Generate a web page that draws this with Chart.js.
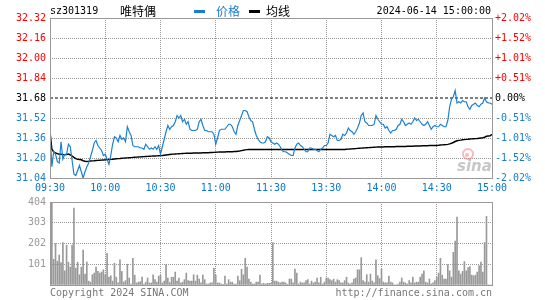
<!DOCTYPE html>
<html>
<head>
<meta charset="utf-8">
<script src="https://cdn.jsdelivr.net/npm/chart.js@4.4.1/dist/chart.umd.min.js"></script>
<style>
  body { margin: 0; background: #fff; }
  #wrap { position: relative; width: 545px; height: 300px; }
  #priceChart { position: absolute; left: 0; top: 0; }
  #volChart { position: absolute; left: 0; top: 192px; }
</style>
</head>
<body>
<div id="wrap">
  <canvas id="priceChart" width="545" height="192"></canvas>
  <canvas id="volChart" width="545" height="108"></canvas>
</div>
<script>
// 昨收 and axis ticks
const prevClose = 31.68;
const timeTickPos = [0, 30, 60, 90, 120, 150, 180, 210, 240];
const timeTicks = ['09:30', '10:00', '10:30', '11:00', '11:30', '13:30', '14:00', '14:30', '15:00'];
const priceTicks = [31.04, 31.20, 31.36, 31.52, 31.68, 31.84, 32.00, 32.16, 32.32];
const pctTicks = ['-2.02%', '-1.52%', '-1.01%', '-0.51%', '0.00%', '+0.51%', '+1.01%', '+1.52%', '+2.02%'];
const volTicks = [0, 101, 202, 303, 404];
const volTickLabels = ['', '101', '202', '303', '404'];

// one value per minute, 09:30-11:30 and 13:01-15:00
const prices = [
  31.41, 31.13, 31.25, 31.23, 31.17, 31.16, 31.33, 31.19, 31.23, 31.23,
  31.31, 31.29, 31.18, 31.07, 31.06, 31.10, 31.14, 31.09, 31.04, 31.09,
  31.13, 31.16, 31.21, 31.26, 31.32, 31.34, 31.30, 31.28, 31.26, 31.22,
  31.23, 31.19, 31.15, 31.22, 31.31, 31.37, 31.36, 31.33, 31.38, 31.35,
  31.36, 31.33, 31.45, 31.41, 31.38, 31.30, 31.29, 31.29, 31.29, 31.28,
  31.28, 31.27, 31.31, 31.29, 31.27, 31.28, 31.27, 31.29, 31.27, 31.30,
  31.23, 31.29, 31.35, 31.41, 31.46, 31.43, 31.45, 31.46, 31.49, 31.54,
  31.52, 31.54, 31.49, 31.51, 31.47, 31.49, 31.43, 31.42, 31.42, 31.42,
  31.43, 31.49, 31.51, 31.46, 31.42, 31.42, 31.41, 31.41, 31.41, 31.39,
  31.31, 31.36, 31.42, 31.43, 31.43, 31.43, 31.45, 31.47, 31.47, 31.45,
  31.41, 31.39, 31.46, 31.50, 31.54, 31.58, 31.58, 31.57, 31.53, 31.50,
  31.49, 31.43, 31.38, 31.35, 31.33, 31.32, 31.32, 31.33, 31.37, 31.36,
  31.33, 31.32, 31.31, 31.32, 31.31, 31.29, 31.26, 31.25, 31.25, 31.24,
  31.23, 31.22, 31.22, 31.28, 31.31, 31.32, 31.30, 31.29, 31.27, 31.25,
  31.25, 31.28, 31.28, 31.27, 31.27, 31.26, 31.25, 31.27, 31.28, 31.30,
  31.30, 31.32, 31.39, 31.38, 31.37, 31.38, 31.34, 31.34, 31.35, 31.39,
  31.38, 31.40, 31.44, 31.42, 31.41, 31.39, 31.41, 31.44, 31.48, 31.54,
  31.56, 31.49, 31.48, 31.46, 31.46, 31.46, 31.47, 31.54, 31.51, 31.49,
  31.47, 31.47, 31.44, 31.45, 31.42, 31.40, 31.42, 31.42, 31.43, 31.46,
  31.47, 31.51, 31.49, 31.46, 31.47, 31.48, 31.47, 31.49, 31.52, 31.50,
  31.51, 31.49, 31.47, 31.46, 31.47, 31.49, 31.46, 31.43, 31.45, 31.46,
  31.45, 31.45, 31.47, 31.46, 31.45, 31.45, 31.50, 31.61, 31.67, 31.69,
  31.74, 31.64, 31.65, 31.64, 31.66, 31.65, 31.65, 31.61, 31.59, 31.62,
  31.63, 31.64, 31.62, 31.61, 31.63, 31.64, 31.68, 31.65, 31.64, 31.64,
  31.63
];

const avgPrices = [
  31.410, 31.270, 31.250, 31.240, 31.235, 31.230, 31.230, 31.228, 31.227, 31.228,
  31.232, 31.225, 31.216, 31.205, 31.195, 31.190, 31.188, 31.186, 31.178, 31.174,
  31.173, 31.174, 31.176, 31.177, 31.178, 31.180, 31.181, 31.182, 31.183, 31.184,
  31.185, 31.187, 31.188, 31.189, 31.190, 31.192, 31.194, 31.195, 31.196, 31.198,
  31.199, 31.200, 31.201, 31.202, 31.203, 31.205, 31.206, 31.207, 31.208, 31.209,
  31.210, 31.211, 31.212, 31.213, 31.214, 31.215, 31.216, 31.216, 31.217, 31.218,
  31.219, 31.220, 31.222, 31.224, 31.226, 31.228, 31.230, 31.231, 31.232, 31.233,
  31.234, 31.235, 31.236, 31.237, 31.238, 31.238, 31.239, 31.239, 31.240, 31.240,
  31.240, 31.241, 31.241, 31.242, 31.242, 31.243, 31.243, 31.244, 31.244, 31.245,
  31.246, 31.247, 31.248, 31.248, 31.249, 31.249, 31.250, 31.250, 31.251, 31.251,
  31.252, 31.252, 31.254, 31.256, 31.259, 31.262, 31.265, 31.267, 31.268, 31.268,
  31.269, 31.269, 31.269, 31.269, 31.269, 31.269, 31.269, 31.269, 31.269, 31.269,
  31.269, 31.269, 31.269, 31.269, 31.269, 31.269, 31.269, 31.269, 31.269, 31.269,
  31.269, 31.269, 31.269, 31.269, 31.269, 31.269, 31.269, 31.269, 31.269, 31.269,
  31.269, 31.269, 31.269, 31.269, 31.269, 31.269, 31.269, 31.269, 31.269, 31.269,
  31.269, 31.269, 31.269, 31.269, 31.269, 31.269, 31.269, 31.269, 31.269, 31.269,
  31.269, 31.270, 31.271, 31.272, 31.273, 31.274, 31.275, 31.277, 31.278, 31.279,
  31.280, 31.281, 31.282, 31.283, 31.284, 31.285, 31.286, 31.287, 31.288, 31.288,
  31.289, 31.289, 31.290, 31.290, 31.290, 31.291, 31.291, 31.291, 31.292, 31.292,
  31.292, 31.293, 31.293, 31.293, 31.294, 31.294, 31.295, 31.295, 31.296, 31.296,
  31.297, 31.297, 31.298, 31.298, 31.299, 31.299, 31.300, 31.300, 31.300, 31.301,
  31.301, 31.302, 31.304, 31.305, 31.306, 31.307, 31.309, 31.313, 31.318, 31.324,
  31.332, 31.338, 31.341, 31.343, 31.346, 31.347, 31.349, 31.350, 31.352, 31.353,
  31.354, 31.355, 31.356, 31.358, 31.360, 31.362, 31.366, 31.374, 31.376, 31.378,
  31.389
];

const volumes = [
  30, 404, 125, 202, 116, 146, 109, 207, 69, 194,
  111, 87, 194, 375, 82, 111, 50, 87, 170, 53,
  111, 19, 14, 50, 58, 87, 66, 58, 63, 74,
  50, 154, 38, 45, 19, 106, 38, 10, 122, 66,
  14, 21, 101, 34, 5, 130, 48, 10, 14, 16,
  38, 5, 14, 34, 10, 10, 50, 26, 14, 43,
  48, 10, 19, 99, 34, 12, 38, 38, 63, 19,
  34, 10, 14, 26, 58, 21, 19, 19, 50, 19,
  48, 29, 10, 48, 26, 5, 5, 10, 10, 82,
  48, 10, 10, 5, 2, 43, 5, 26, 14, 14,
  5, 5, 43, 21, 77, 50, 130, 87, 29, 14,
  5, 5, 14, 14, 48, 5, 8, 5, 8, 8,
  8, 207, 19, 19, 14, 10, 14, 14, 10, 2,
  29, 29, 10, 77, 58, 5, 14, 10, 10, 21,
  26, 5, 19, 10, 14, 34, 10, 38, 5, 14,
  34, 34, 26, 21, 29, 14, 26, 21, 10, 10,
  21, 38, 10, 5, 10, 29, 34, 74, 74, 133,
  21, 14, 50, 14, 53, 19, 10, 122, 45, 31,
  79, 14, 10, 10, 43, 14, 10, 0, 0, 5,
  14, 34, 14, 10, 5, 21, 10, 38, 10, 14,
  14, 38, 53, 69, 14, 10, 29, 5, 10, 21,
  38, 58, 130, 48, 29, 29, 99, 69, 38, 159,
  214, 330, 69, 53, 66, 114, 69, 85, 90, 48,
  45, 48, 63, 95, 111, 63, 207, 334, 0, 0,
  0
];

const MONO = { family: 'DejaVu Sans Mono', size: 10 };
const RED = '#ff0000';
const BLUE = '#1a7dcc';
const GRID = '#999999';

function priceColor(v) {
  if (Math.abs(v - prevClose) < 1e-6) return '#000';
  return v > prevClose ? RED : BLUE;
}

// vertical dotted lines at the half-hour ticks, placed by the x scale
const timeGridPlugin = {
  id: 'timeGrid',
  beforeDatasetsDraw(chart) {
    const ctx = chart.ctx;
    const a = chart.chartArea;
    const xScale = chart.scales.x;
    ctx.save();
    ctx.fillStyle = GRID;
    for (let k = 1; k < timeTickPos.length - 1; k++) {
      const px = Math.floor(xScale.getPixelForValue(timeTickPos[k]));
      for (let y = Math.round(a.top) + 2; y < a.bottom - 1; y += 2) {
        ctx.fillRect(px, y, 1, 1);
      }
    }
    ctx.restore();
  }
};

// frame round the plot area
const framePlugin = {
  id: 'frame',
  afterDraw(chart) {
    const { ctx, chartArea: a } = chart;
    ctx.save();
    ctx.strokeStyle = '#999';
    ctx.lineWidth = 1;
    ctx.strokeRect(Math.round(a.left) + 0.5, Math.round(a.top) + 0.5,
      Math.round(a.right - a.left), Math.round(a.bottom - a.top));
    ctx.restore();
  }
};

// header, legend and the sina mark
const headerPlugin = {
  id: 'header',
  beforeDatasetsDraw(chart) {
    const ctx = chart.ctx;
    ctx.save();
    ctx.globalAlpha = 0.55;
    ctx.strokeStyle = '#f08080';
    ctx.lineWidth = 2;
    ctx.beginPath();
    ctx.arc(468, 154, 5, 0, Math.PI * 2);
    ctx.stroke();
    ctx.fillStyle = '#f08080';
    ctx.beginPath();
    ctx.arc(467, 155, 2, 0, Math.PI * 2);
    ctx.fill();
    ctx.fillStyle = '#999';
    ctx.font = 'italic bold 15px "DejaVu Sans"';
    ctx.textBaseline = 'alphabetic';
    ctx.fillText('sina', 457, 171);
    ctx.restore();
  },
  afterDraw(chart) {
    const ctx = chart.ctx;
    ctx.save();
    ctx.textBaseline = 'middle';
    ctx.font = '10px "DejaVu Sans Mono"';
    ctx.fillStyle = '#000';
    ctx.fillText('sz301319', 50, 11);
    ctx.font = '12px "Noto Sans CJK SC"';
    ctx.fillText('唯特偶', 120, 11);
    ctx.fillStyle = BLUE;
    ctx.fillRect(194, 10, 11, 3);
    ctx.fillText('价格', 216, 11);
    ctx.fillStyle = '#000';
    ctx.fillRect(249, 10, 11, 3);
    ctx.fillText('均线', 266, 11);
    ctx.font = '10px "DejaVu Sans Mono"';
    ctx.textAlign = 'right';
    ctx.fillText('2024-06-14 15:00:00', 491, 11);
    ctx.restore();
  }
};

const footerPlugin = {
  id: 'footer',
  afterDraw(chart) {
    const ctx = chart.ctx;
    ctx.save();
    ctx.font = '10px "DejaVu Sans Mono"';
    ctx.fillStyle = '#777';
    ctx.textBaseline = 'middle';
    ctx.fillText('Copyright 2024 SINA.COM', 50, 101);
    ctx.textAlign = 'right';
    ctx.fillText('http://finance.sina.com.cn', 492, 101);
    ctx.restore();
  }
};

new Chart(document.getElementById('priceChart'), {
  type: 'line',
  data: {
    datasets: [
      {
        label: '价格',
        data: prices.map((p, i) => ({ x: i, y: p })),
        borderColor: '#1a82d2',
        borderWidth: 1.2,
        pointRadius: 0,
        tension: 0
      },
      {
        label: '均线',
        data: avgPrices.map((p, i) => ({ x: i, y: p })),
        borderColor: '#000',
        borderWidth: 1.5,
        pointRadius: 0,
        tension: 0
      },
      {
        label: '昨收',
        data: [{ x: 0, y: prevClose }, { x: 240, y: prevClose }],
        borderColor: '#000',
        borderWidth: 1,
        borderDash: [3, 2],
        pointRadius: 0
      }
    ]
  },
  options: {
    responsive: false,
    animation: false,
    layout: { padding: { top: 18, left: 0, right: 0, bottom: 0 } },
    plugins: { legend: { display: false }, tooltip: { enabled: false } },
    scales: {
      x: {
        type: 'linear',
        min: 0,
        max: 240,
        afterBuildTicks: s => { s.ticks = timeTickPos.map(v => ({ value: v })); },
        afterFit: s => { s.height = 14; },
        ticks: {
          autoSkip: false,
          maxRotation: 0,
          padding: 4,
          color: '#0a78c8',
          font: MONO,
          callback: (v, i) => timeTicks[i]
        },
        grid: { display: false, drawTicks: false },
        border: { display: false }
      },
      y: {
        position: 'left',
        min: priceTicks[0],
        max: priceTicks[priceTicks.length - 1],
        afterBuildTicks: s => { s.ticks = priceTicks.map(v => ({ value: v })); },
        afterFit: s => { s.width = 50; },
        ticks: {
          padding: 4,
          font: MONO,
          color: ctx => priceColor(ctx.tick.value),
          callback: (v, i) => priceTicks[i].toFixed(2)
        },
        grid: {
          drawTicks: false,
          color: ctx => (ctx.tick && Math.abs(ctx.tick.value - prevClose) < 1e-6) ? 'rgba(0,0,0,0)' : GRID
        },
        border: { display: false, dash: [1, 1] }
      },
      y2: {
        position: 'right',
        min: priceTicks[0],
        max: priceTicks[priceTicks.length - 1],
        afterBuildTicks: s => { s.ticks = priceTicks.map(v => ({ value: v })); },
        afterFit: s => { s.width = 53; },
        ticks: {
          padding: 3,
          font: MONO,
          color: ctx => priceColor(ctx.tick.value),
          callback: (v, i) => pctTicks[i]
        },
        grid: { display: false, drawTicks: false },
        border: { display: false }
      }
    }
  },
  plugins: [timeGridPlugin, headerPlugin, framePlugin]
});

new Chart(document.getElementById('volChart'), {
  type: 'bar',
  data: {
    datasets: [{
      label: '成交量',
      data: volumes.map((v, i) => ({ x: i, y: v })),
      backgroundColor: '#999',
      barThickness: 1
    }]
  },
  options: {
    responsive: false,
    animation: false,
    layout: { padding: { top: 9, left: 0, right: 53, bottom: 0 } },
    plugins: { legend: { display: false }, tooltip: { enabled: false } },
    scales: {
      x: {
        type: 'linear',
        offset: false,
        min: 0,
        max: 240,
        afterBuildTicks: s => { s.ticks = timeTickPos.map(v => ({ value: v })); },
        afterFit: s => { s.height = 15; },
        ticks: { display: false },
        grid: { display: false, drawTicks: false },
        border: { display: false }
      },
      y: {
        min: 0,
        max: 404,
        afterBuildTicks: s => { s.ticks = volTicks.map(v => ({ value: v })); },
        afterFit: s => { s.width = 50; },
        ticks: {
          padding: 4,
          font: MONO,
          color: '#999',
          callback: (v, i) => volTickLabels[i]
        },
        grid: { drawTicks: false, color: ctx => (ctx.tick && ctx.tick.value === 0) ? 'rgba(0,0,0,0)' : GRID },
        border: { display: false, dash: [1, 1] }
      }
    }
  },
  plugins: [timeGridPlugin, framePlugin, footerPlugin]
});
</script>
</body>
</html>
